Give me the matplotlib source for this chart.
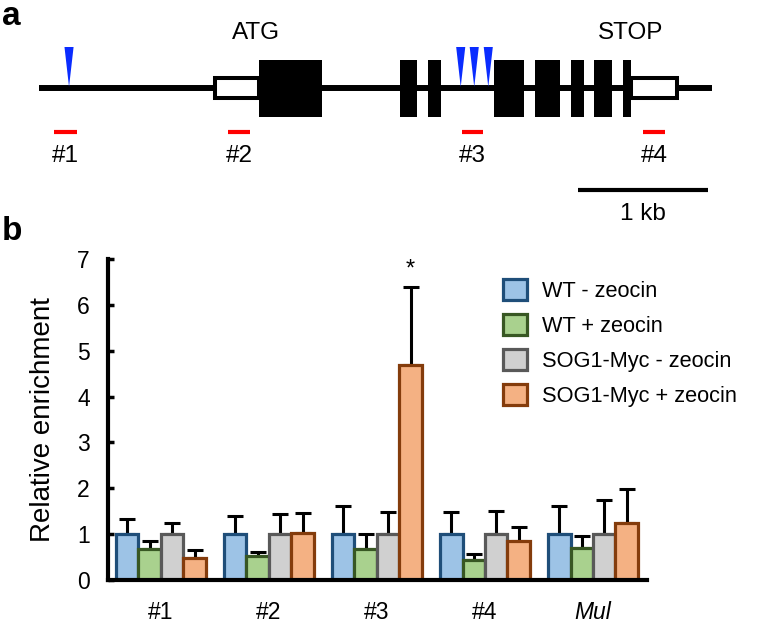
import matplotlib
matplotlib.use("Agg")
import matplotlib.pyplot as plt
import numpy as np
from matplotlib.patches import Rectangle, Polygon

plt.rcParams['font.family'] = ['Liberation Sans', 'DejaVu Sans']

# ---------------- data ----------------
categories = ['#1', '#2', '#3', '#4', 'Mul']
series = ['WT - zeocin', 'WT + zeocin', 'SOG1-Myc - zeocin', 'SOG1-Myc + zeocin']
wt_minus = [1.0, 1.0, 1.0, 1.0, 1.0]
wt_plus = [0.675, 0.53, 0.675, 0.44, 0.70]
sog_minus = [1.0, 1.0, 1.0, 1.0, 1.0]
sog_plus = [0.47, 1.02, 4.68, 0.84, 1.25]
err_wt_minus = [0.34, 0.39, 0.61, 0.49, 0.61]
err_wt_plus = [0.18, 0.09, 0.33, 0.12, 0.25]
err_sog_minus = [0.24, 0.45, 0.48, 0.50, 0.74]
err_sog_plus = [0.19, 0.45, 1.70, 0.32, 0.73]
face_colors = ['#9dc3e6', '#a9d18e', '#d0d0d0', '#f4b183']
edge_colors = ['#1f4e79', '#385723', '#595959', '#843c0c']

# gene model (bp, from gene start)
gene_length = 5180
utr_regions = [(1354, 1692), (4554, 4908)]
exons = [(1692, 2177), (2777, 2908), (2992, 3092), (3500, 3731),
         (3815, 4008), (4092, 4192), (4269, 4408), (4492, 4554)]
sog1_sites = [231, 3244, 3348, 3456]
amplicons = [(115, 292), (1454, 1623), (3254, 3415), (4646, 4815)]
amplicon_labels = ['#1', '#2', '#3', '#4']
scale_bar = (4146, 5146)

# ---------------- figure ----------------
W, H = 762, 623
fig = plt.figure(figsize=(W / 100, H / 100), dpi=100)

# ---- panel a ----
axa = fig.add_axes([0, 1 - 230 / H, 1, 230 / H])
axa.set_xlim(-39 / 0.13, (W - 39) / 0.13)
axa.set_ylim(230, 0)
axa.axis('off')

line_y = 88
axa.plot([0, gene_length], [line_y, line_y], color='black', lw=4.3,
         solid_capstyle='butt', zorder=1)
for s, e in utr_regions:
    axa.add_patch(Rectangle((s, 78), e - s, 20, facecolor='white',
                            edgecolor='black', lw=2.9, zorder=2))
for s, e in exons:
    axa.add_patch(Rectangle((s, 60), e - s, 57, facecolor='black',
                            edgecolor='none', zorder=3))
tri_half = 35
for p in sog1_sites:
    axa.add_patch(Polygon([(p - tri_half, 47), (p + tri_half, 47), (p, 87)],
                          closed=True, facecolor='#0a2cff', edgecolor='none',
                          zorder=4))
fs_a = 17.5
for (s, e), lab in zip(amplicons, amplicon_labels):
    axa.plot([s, e], [132, 132], color='#ff0000', lw=3, solid_capstyle='butt')
    axa.text((s + e) / 2, 156, lab, ha='center', va='center', fontsize=fs_a)
axa.text(exons[0][0] - 20, 33, 'ATG', ha='center', va='center', fontsize=fs_a)
axa.text(utr_regions[1][0], 33, 'STOP', ha='center', va='center', fontsize=fs_a)
axa.plot(scale_bar, [190, 190], color='black', lw=3, solid_capstyle='butt')
axa.text(np.mean(scale_bar), 214, '1 kb', ha='center', va='center', fontsize=fs_a)

fig.text(2 / W, 1 - 25 / H, 'a', fontsize=24, fontweight='bold', ha='left', va='baseline')
fig.text(2 / W, 1 - 240 / H, 'b', fontsize=24, fontweight='bold', ha='left', va='baseline')

# ---- panel b ----
ax = fig.add_axes([108 / W, 1 - 580 / H, (647 - 108) / W, (580 - 259) / H])
x = np.arange(len(categories))
bw = 0.208
values = [wt_minus, wt_plus, sog_minus, sog_plus]
errors = [err_wt_minus, err_wt_plus, err_sog_minus, err_sog_plus]
for i, (v, e) in enumerate(zip(values, errors)):
    pos = x + (i - 1.5) * bw
    ax.errorbar(pos, v, yerr=[np.zeros(len(v)), e], fmt='none', ecolor='black',
                elinewidth=2.2, capsize=6, capthick=2.2, zorder=1)
    ax.bar(pos, v, width=bw, color=face_colors[i], edgecolor=edge_colors[i],
           linewidth=2.3, label=series[i], zorder=2)

star_idx = 2
ax.text(x[star_idx] + 1.5 * bw, sog_plus[star_idx] + err_sog_plus[star_idx] + 0.4,
        '*', ha='center', va='center', fontsize=17)

ax.set_xlim(-0.49, 4.5)
ax.set_ylim(0, 7)
ax.set_yticks(range(0, 8))
ax.set_xticks(x)
ax.set_xticklabels(categories)
ax.get_xticklabels()[-1].set_style('italic')
for sp in ['top', 'right']:
    ax.spines[sp].set_visible(False)
for sp in ['left', 'bottom']:
    ax.spines[sp].set_linewidth(3)
ax.tick_params(axis='y', direction='in', length=4, width=2.5, labelsize=16.5, pad=13)
ax.tick_params(axis='x', length=0, labelsize=16.5, pad=15)
ax.set_ylabel('Relative enrichment', fontsize=20, labelpad=15)

leg = ax.legend(loc='upper left', bbox_to_anchor=(503 / W, 1 - 279 / H),
                bbox_transform=fig.transFigure, frameon=False, fontsize=15.7,
                handlelength=1.12, handleheight=1.12, handletextpad=0.65,
                labelspacing=0.55, borderpad=0, borderaxespad=0)

fig.savefig('out.png', dpi=100)
